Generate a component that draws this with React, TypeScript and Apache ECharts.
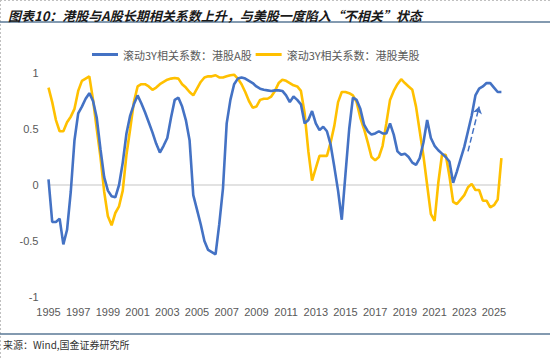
import React, { useEffect, useRef } from "react";
import * as echarts from "echarts";

// Quarterly observations, 1995Q1 .. 2025Q3
const startYear = 1995;
const quarterCount = 123;
const quarters: string[] = [];
for (let i = 0; i < quarterCount; i++) {
  quarters.push(`${startYear + Math.floor(i / 4)}Q${(i % 4) + 1}`);
}

const seriesNames = ["滚动3Y相关系数：港股A股", "滚动3Y相关系数：港股美股"];

// 港股 vs A股 rolling 3Y correlation
const hkVsA = [
  0.05, -0.33, -0.33, -0.30, -0.53, -0.40, -0.06, 0.40, 0.64, 0.70, 0.77, 0.82,
  0.75, 0.60, 0.32, 0.07, -0.05, -0.10, -0.11, 0.00, 0.20, 0.46, 0.62, 0.72,
  0.80, 0.73, 0.65, 0.56, 0.47, 0.37, 0.29, 0.35, 0.42, 0.60, 0.76, 0.78,
  0.70, 0.58, 0.40, -0.09, -0.22, -0.35, -0.50, -0.58, -0.60, -0.62, -0.35, -0.03,
  0.55, 0.76, 0.90, 0.95, 0.96, 0.95, 0.93, 0.91, 0.88, 0.86, 0.85, 0.845,
  0.84, 0.845, 0.845, 0.84, 0.80, 0.74, 0.79, 0.76, 0.72, 0.55, 0.58, 0.66,
  0.55, 0.49, 0.52, 0.48, 0.36, 0.16, -0.05, -0.31, 0.10, 0.50, 0.78, 0.76,
  0.68, 0.54, 0.48, 0.45, 0.46, 0.48, 0.46, 0.46, 0.55, 0.45, 0.30, 0.27,
  0.28, 0.25, 0.20, 0.18, 0.24, 0.38, 0.58, 0.42, 0.35, 0.31, 0.28, 0.25,
  0.21, 0.02, 0.12, 0.23, 0.34, 0.48, 0.62, 0.80, 0.86, 0.88, 0.91, 0.91,
  0.87, 0.83, 0.83,
];

// 港股 vs 美股 rolling 3Y correlation
const hkVsUS = [
  0.87, 0.74, 0.58, 0.48, 0.48, 0.56, 0.61, 0.68, 0.84, 0.93, 0.95, 0.97,
  0.76, 0.50, 0.25, -0.06, -0.28, -0.36, -0.25, -0.19, -0.05, 0.27, 0.50, 0.74,
  0.88, 0.90, 0.90, 0.88, 0.85, 0.87, 0.90, 0.92, 0.94, 0.95, 0.955, 0.95,
  0.90, 0.87, 0.83, 0.80, 0.86, 0.92, 0.96, 0.97, 0.97, 0.98, 0.96, 0.96,
  0.97, 0.98, 0.985, 0.95, 0.90, 0.83, 0.75, 0.69, 0.70, 0.76, 0.77, 0.77,
  0.79, 0.84, 0.91, 0.94, 0.93, 0.91, 0.89, 0.88, 0.84, 0.64, 0.30, 0.04,
  0.15, 0.26, 0.26, 0.26, 0.38, 0.53, 0.74, 0.83, 0.83, 0.82, 0.80, 0.74,
  0.60, 0.50, 0.38, 0.25, 0.22, 0.25, 0.35, 0.55, 0.76, 0.84, 0.90, 0.945,
  0.91, 0.88, 0.85, 0.70, 0.48, 0.26, 0.00, -0.26, -0.32, 0.02, 0.27, 0.27,
  0.08, -0.15, -0.17, -0.13, -0.09, -0.02, 0.01, -0.045, -0.045, -0.14, -0.14, -0.20,
  -0.18, -0.13, 0.24,
];

const yTicks = { min: -1, max: 1, interval: 0.5 };
const arrowFrom = { q: 113, v: 0.3 };
const arrowTo = { q: 116, v: 0.7 };

const titleText = "图表10：港股与A股长期相关系数上升，与美股一度陷入“不相关”状态";
const sourceText = "来源：Wind,国金证券研究所";

const BLUE = "#4472C4";
const YELLOW = "#FFC000";
const FONT = '"Liberation Sans", "Noto Sans CJK SC", sans-serif';
const CJK = '"Noto Sans CJK SC", sans-serif';

export default function App() {
  const ref = useRef<HTMLDivElement>(null);

  useEffect(() => {
    if (!ref.current) return;
    const chart = echarts.init(ref.current, null, { renderer: "svg" });
    chart.setOption({
      animation: false,
      backgroundColor: "#ffffff",
      title: {
        text: titleText,
        left: 3,
        top: 4,
        textStyle: {
          fontSize: 13,
          fontWeight: "bold",
          fontStyle: "italic",
          color: "#1a1a1a",
          fontFamily: CJK,
        },
      },
      legend: {
        data: seriesNames,
        left: 87,
        top: 44,
        icon: "rect",
        itemWidth: 26,
        itemHeight: 3,
        itemGap: 4,
        textStyle: { color: "#595959", fontSize: 11, fontFamily: CJK },
      },
      grid: { left: 48.5, right: 48.6, top: 73, bottom: 62 },
      xAxis: {
        type: "category",
        data: quarters,
        boundaryGap: false,
        axisLine: { show: false, onZero: false },
        axisTick: { show: false },
        splitLine: { show: false },
        axisLabel: {
          interval: (i: number) => i % 8 === 0,
          formatter: (v: string) => v.slice(0, 4),
          color: "#595959",
          fontSize: 11,
          fontFamily: FONT,
          margin: 9,
        },
      },
      yAxis: {
        type: "value",
        min: yTicks.min,
        max: yTicks.max,
        interval: yTicks.interval,
        axisLine: { show: false },
        axisTick: { show: false },
        axisLabel: { color: "#595959", fontSize: 11, fontFamily: FONT, margin: 10 },
        splitLine: {
          show: true,
          lineStyle: {
            color: ["transparent", "transparent", "#d9d9d9", "transparent", "transparent"],
            width: 1.5,
          },
        },
      },
      series: [
        {
          name: seriesNames[0],
          type: "line",
          data: hkVsA,
          showSymbol: false,
          lineStyle: { color: BLUE, width: 2.6 },
          itemStyle: { color: BLUE },
          z: 3,
          markLine: {
            silent: true,
            symbol: ["none", "arrow"],
            symbolSize: 7,
            label: { show: false },
            lineStyle: { type: "dashed", color: BLUE, width: 1.5 },
            data: [
              [
                { coord: [quarters[arrowFrom.q], arrowFrom.v] },
                { coord: [quarters[arrowTo.q], arrowTo.v] },
              ],
            ],
          },
        },
        {
          name: seriesNames[1],
          type: "line",
          data: hkVsUS,
          showSymbol: false,
          lineStyle: { color: YELLOW, width: 2.6 },
          itemStyle: { color: YELLOW },
          z: 2,
        },
      ],
      graphic: [
        {
          type: "line",
          shape: { x1: 0, y1: 0.5, x2: 550, y2: 0.5 },
          style: { stroke: "#c0c0c0", lineWidth: 1, lineDash: [2, 2] },
        },
        {
          type: "line",
          shape: { x1: 0.5, y1: 0, x2: 0.5, y2: 359 },
          style: { stroke: "#c0c0c0", lineWidth: 1, lineDash: [2, 2] },
        },
        {
          type: "line",
          shape: { x1: 0, y1: 22, x2: 550, y2: 22 },
          style: { stroke: "#5a7896", lineWidth: 1.5 },
        },
        {
          type: "line",
          shape: { x1: 0, y1: 334, x2: 550, y2: 334 },
          style: { stroke: "#5a7896", lineWidth: 1.5 },
        },
        {
          type: "text",
          left: 3,
          top: 339,
          style: { text: sourceText, fontSize: 10, fill: "#333333", fontFamily: CJK },
        },
      ],
    });
    return () => chart.dispose();
  }, []);

  return (
    <div
      ref={ref}
      style={{ position: "absolute", left: 0, top: 0, width: 550, height: 359 }}
    />
  );
}
